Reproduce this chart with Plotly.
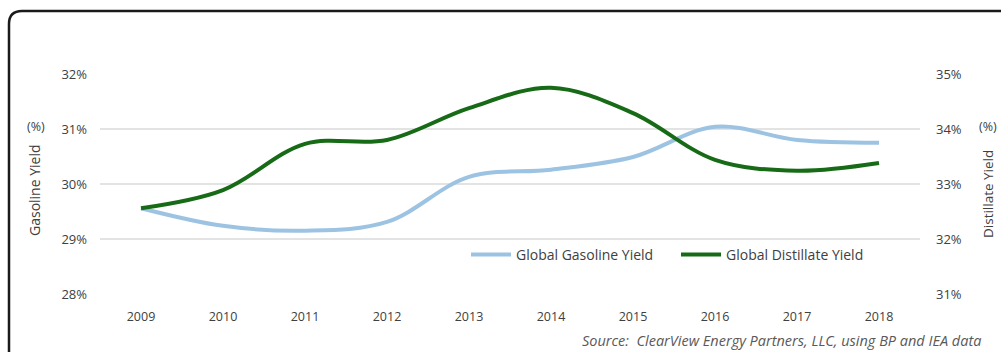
import plotly.graph_objects as go

years = ["2009", "2010", "2011", "2012", "2013", "2014", "2015", "2016", "2017", "2018"]
gasoline_yield = [29.56, 29.24, 29.15, 29.31, 30.13, 30.26, 30.49, 31.04, 30.80, 30.75]
distillate_yield = [32.56, 32.89, 33.73, 33.80, 34.38, 34.75, 34.29, 33.44, 33.24, 33.38]

left_ticks = [28, 29, 30, 31, 32]
right_ticks = [31, 32, 33, 34, 35]

W, H = 1001, 352
L, R, T, B = 100, 920, 74, 294  # plot area in pixels


def px(x):
    return (x - L) / (R - L)


def py(y):
    return (B - y) / (B - T)


FONT = "'Open Sans', sans-serif"
TEXT = "#404040"
GREY = "#595959"

fig = go.Figure()
fig.add_trace(go.Scatter(
    x=years, y=gasoline_yield, name="Global Gasoline Yield", mode="lines",
    line=dict(color="#9dc3e3", width=4, shape="spline", smoothing=1.0),
    yaxis="y",
))
fig.add_trace(go.Scatter(
    x=years, y=distillate_yield, name="Global Distillate Yield", mode="lines",
    line=dict(color="#176b17", width=4, shape="spline", smoothing=1.0),
    yaxis="y2",
))

# rounded frame, only the top-left corner falls inside the page
x0, ytop = px(9), py(11)
xr, ybot = px(1015), py(370)
rx, ry = 13 / (R - L), 13 / (B - T)
frame_path = (f"M {x0},{ybot} L {x0},{ytop - ry} Q {x0},{ytop} {x0 + rx},{ytop} "
              f"L {xr},{ytop}")


def label(text, x, y, size, angle=0, color=TEXT, xanchor="center"):
    return dict(text=text, x=px(x), y=py(y), xref="paper", yref="paper",
                xanchor=xanchor, yanchor="middle", textangle=angle,
                showarrow=False, font=dict(size=size, color=color))


fig.update_layout(
    width=W, height=H,
    margin=dict(l=L, r=W - R, t=T, b=H - B),
    paper_bgcolor="white", plot_bgcolor="white",
    font=dict(family=FONT, size=12, color=TEXT),
    xaxis=dict(
        type="category", range=[-0.5, 9.5], showgrid=False, zeroline=False,
        showline=False, ticks="", ticklabelstandoff=13,
        tickfont=dict(size=12.5, color=TEXT),
    ),
    yaxis=dict(
        range=[28, 32], tickvals=left_ticks,
        ticktext=[f"{v}%" for v in left_ticks],
        showgrid=True, gridcolor="#e3e3e3", gridwidth=1.5, zeroline=False,
        showline=False, ticks="", ticklabelstandoff=12,
        tickfont=dict(size=13, color=TEXT),
    ),
    yaxis2=dict(
        range=[31, 35], tickvals=right_ticks,
        ticktext=[f"{v}%" for v in right_ticks],
        overlaying="y", side="right", showgrid=False, zeroline=False,
        showline=False, ticks="", ticklabelstandoff=15,
        tickfont=dict(size=13, color=TEXT),
    ),
    legend=dict(
        orientation="h", x=px(466), y=py(255), xanchor="left", yanchor="middle",
        font=dict(size=14, color=TEXT), bgcolor="rgba(0,0,0,0)",
        itemwidth=40, traceorder="normal", entrywidth=155, entrywidthmode="pixels",
    ),
    showlegend=True,
    shapes=[dict(type="path", path=frame_path, xref="paper", yref="paper",
                 line=dict(color="#1a1a1a", width=2.5), layer="above")],
    annotations=[
        label("Gasoline Yield", 34, 190, 14, angle=-90),
        label("(%)", 36, 126, 12.5),
        label("Distillate Yield", 988, 194, 13.5, angle=-90),
        label("(%)", 988, 126, 12.5),
        label("<i>Source:  ClearView Energy Partners, LLC, using BP and IEA data</i>",
              983, 340, 14.5, color=GREY, xanchor="right"),
    ],
)

fig.write_html("out.html")
